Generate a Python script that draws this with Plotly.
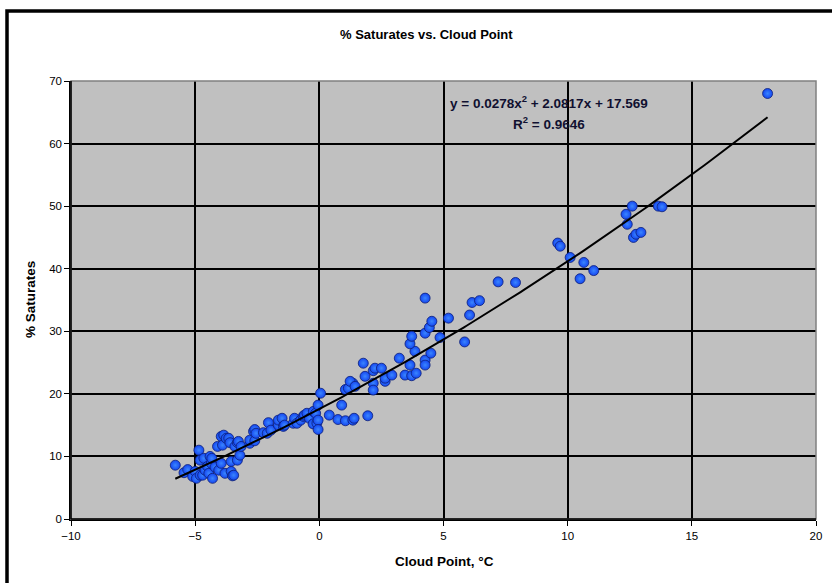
import plotly.graph_objects as go

# ---- data ----
cloud_point = [
    -5.8, -5.45, -5.3, -5.1, -5.0, -4.95, -4.85, -4.8, -4.8, -4.7, -4.65, -4.6, -4.5, -4.45,
    -4.4, -4.35, -4.33, -4.3, -4.2, -4.1, -4.05, -3.95, -3.95, -3.9, -3.85, -3.8, -3.75, -3.65,
    -3.6, -3.55, -3.55, -3.5, -3.45, -3.4, -3.3, -3.3, -3.26, -3.2, -3.15,
    -2.8, -2.8, -2.65, -2.6, -2.6, -2.55, -2.25, -2.1, -2.05, -1.95, -1.65, -1.65, -1.5, -1.45,
    -1.4, -1.05, -1.0, -0.9, -0.75, -0.65, -0.6, -0.5, -0.4, -0.25, -0.24, -0.15, -0.1,
    -0.05, -0.05, -0.05, 0.05, 0.4, 0.75, 0.9, 1.05, 1.05, 1.35, 1.35, 1.4, 1.95,
    1.17, 1.24, 1.44, 1.77, 1.84, 2.17, 2.17, 2.17, 2.24, 2.5, 2.65, 2.65, 2.92,
    3.22, 3.45, 3.65, 3.72, 3.9, 4.26, 4.26, 3.85, 4.49, 3.65, 3.72, 4.26, 4.43, 4.53, 4.86,
    4.26, 5.2, 5.85, 6.05, 6.15, 6.45, 7.2, 7.9,
    9.6, 9.7, 10.1, 10.5, 10.65, 11.05,
    12.35, 12.4, 12.6, 12.65, 12.75, 12.95, 13.65, 13.8, 18.05,
]
saturates = [
    8.6, 7.4, 7.9, 6.8, 7.6, 6.5, 11.0, 9.4, 7.0, 7.0, 9.7, 7.8, 8.4, 7.3,
    10.0, 8.9, 9.7, 6.5, 8.3, 11.6, 7.8, 8.9, 13.2, 11.8, 13.4, 7.3, 12.9, 12.9,
    12.2, 7.6, 9.2, 6.9, 7.0, 11.6, 9.4, 12.2, 12.4, 10.2, 11.6,
    12.1, 12.6, 14.0, 12.5, 14.3, 13.7, 13.8, 13.7, 15.4, 14.2, 15.0, 15.8, 16.1, 14.8,
    15.0, 15.3, 16.1, 15.3, 15.8, 16.4, 16.6, 16.9, 16.1, 15.2, 17.2, 16.9, 15.3,
    15.8, 14.3, 18.2, 20.1, 16.6, 15.9, 18.2, 15.7, 20.7, 15.8, 21.7, 16.1, 16.5,
    20.9, 22.0, 21.2, 24.9, 22.8, 23.7, 21.7, 20.6, 24.1, 24.1, 22.0, 22.5, 23.0,
    25.7, 23.0, 24.6, 22.9, 23.3, 25.4, 24.6, 26.8, 26.5, 28.0, 29.2, 29.7, 30.6, 31.6, 29.0,
    35.3, 32.1, 28.3, 32.6, 34.6, 34.9, 37.9, 37.8,
    44.1, 43.6, 41.8, 38.4, 41.0, 39.7,
    48.7, 47.1, 50.0, 45.0, 45.5, 45.8, 50.0, 49.9, 68.0,
]

# polynomial trendline shown on the chart: y = a x^2 + b x + c
trend_coef = [0.0278, 2.0817, 17.569]
trend_x_range = [-5.8, 18.05]
x_ticks = [-10, -5, 0, 5, 10, 15, 20]
y_ticks = [0, 10, 20, 30, 40, 50, 60, 70]

title_text = "% Saturates vs. Cloud Point"
x_title = "Cloud Point, °C"
y_title = "% Saturates"
eq_text = "y = 0.0278x<sup>2</sup> + 2.0817x + 17.569"
r2_text = "R<sup>2</sup> = 0.9646"

# ---- build trend curve ----
n = 200
tx = [trend_x_range[0] + (trend_x_range[1] - trend_x_range[0]) * i / (n - 1) for i in range(n)]
ty = [trend_coef[0] * v * v + trend_coef[1] * v + trend_coef[2] for v in tx]

# ---- pixel layout helpers ----
W, H = 832, 583
L, R, T, B = 71, 16, 81, 64
pw, ph = W - L - R, H - T - B


def px(x):
    return (x - L) / pw


def py(y):
    return (H - B - y) / ph


fig = go.Figure()
fig.add_trace(go.Scatter(
    x=cloud_point, y=saturates, mode="markers",
    marker=dict(size=10, color="#1446f0",
                gradient=dict(type="radial", color="#3a86ff"),
                line=dict(width=0.8, color="#0c1f78")),
    hoverinfo="x+y", showlegend=False,
))
fig.add_trace(go.Scatter(
    x=tx, y=ty, mode="lines", line=dict(color="black", width=2),
    hoverinfo="skip", showlegend=False,
))

font = "Liberation Sans, Arial, sans-serif"
fig.update_layout(
    width=W, height=H,
    margin=dict(l=L, r=R, t=T, b=B, pad=0),
    paper_bgcolor="white", plot_bgcolor="#c0c0c0",
    font=dict(family=font, size=11, color="black"),
    xaxis=dict(range=[-10, 20], tickvals=x_ticks, ticks="outside", ticklen=5,
               tickcolor="black", showline=True, linecolor="black", linewidth=1.5,
               showgrid=True, gridcolor="black", gridwidth=1.5, zeroline=False,
               tickfont=dict(size=11.5), fixedrange=True, automargin=False),
    yaxis=dict(range=[0, 70], tickvals=y_ticks, ticks="outside", ticklen=5,
               tickcolor="black", showline=True, linecolor="black", linewidth=1.5,
               showgrid=True, gridcolor="black", gridwidth=1.5, zeroline=False,
               tickfont=dict(size=11.5), fixedrange=True, automargin=False),
    shapes=[
        # grey plot-area border (top/right)
        dict(type="rect", xref="paper", yref="paper", x0=0, y0=0, x1=1, y1=1,
             line=dict(color="#808080", width=1.5), layer="above"),
        dict(type="line", xref="paper", yref="paper", x0=0, y0=0, x1=0, y1=1,
             line=dict(color="black", width=1.5), layer="above"),
        dict(type="line", xref="paper", yref="paper", x0=0, y0=0, x1=1, y1=0,
             line=dict(color="black", width=1.5), layer="above"),
        # outer chart frame
        dict(type="rect", xref="paper", yref="paper", x0=px(7), y0=py(605),
             x1=px(860), y1=py(11), line=dict(color="black", width=3.5)),
    ],
    annotations=[
        dict(text=f"<b>{title_text}</b>", xref="paper", yref="paper", x=px(426), y=py(35),
             showarrow=False, font=dict(size=13), xanchor="center", yanchor="middle"),
        dict(text=f"<b>{x_title}</b>", xref="paper", yref="paper", x=px(444), y=py(561),
             showarrow=False, font=dict(size=13.5), xanchor="center", yanchor="middle"),
        dict(text=f"<b>{y_title}</b>", xref="paper", yref="paper", x=px(30), y=py(300),
             showarrow=False, font=dict(size=13.5), textangle=-90,
             xanchor="center", yanchor="middle"),
        dict(text=f"<b>{eq_text}</b>", xref="paper", yref="paper", x=px(549), y=py(102),
             showarrow=False, font=dict(size=13.5, color="#101030"),
             xanchor="center", yanchor="middle"),
        dict(text=f"<b>{r2_text}</b>", xref="paper", yref="paper", x=px(549), y=py(123),
             showarrow=False, font=dict(size=13.5, color="#101030"),
             xanchor="center", yanchor="middle"),
    ],
)

fig.write_html("out.html", config={"displayModeBar": False},
               post_script="document.body.style.margin='0';document.body.style.overflow='hidden';")
